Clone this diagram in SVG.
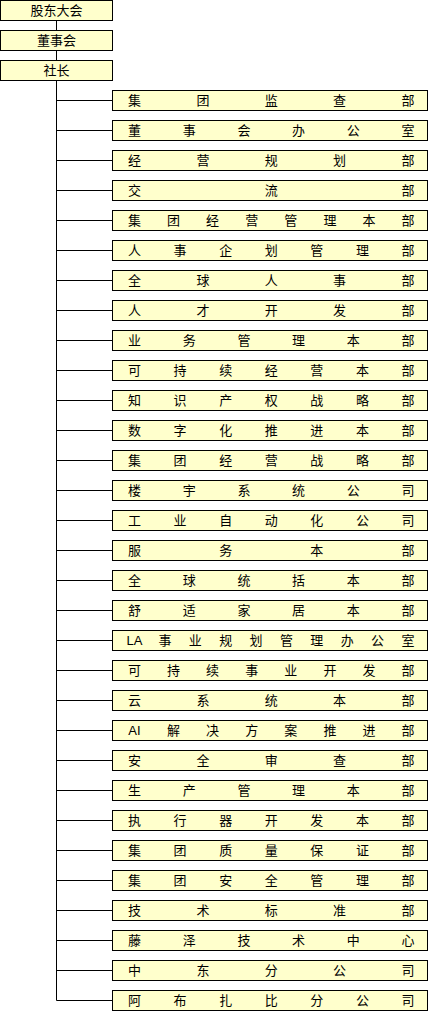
<svg xmlns="http://www.w3.org/2000/svg" width="431" height="1011" viewBox="0 0 431 1011">
<style>
rect{fill:#FFFFCC;stroke:#000;stroke-width:1}
text{font-family:"Liberation Sans","Noto Sans CJK SC",sans-serif;font-size:13px;fill:#000;text-anchor:middle}
.c line,.c path{stroke:#000;stroke-width:1;fill:none}
</style>
<rect width="431" height="1011" fill="#fff" style="fill:#fff;stroke:none"/>
<g class="c" id="connectors">
<path d="M56.5 20.5V1000.5"/>
<path d="M56.5 100.5H112.5M56.5 130.5H112.5M56.5 160.5H112.5M56.5 190.5H112.5M56.5 220.5H112.5M56.5 250.5H112.5M56.5 280.5H112.5M56.5 310.5H112.5M56.5 340.5H112.5M56.5 370.5H112.5M56.5 400.5H112.5M56.5 430.5H112.5M56.5 460.5H112.5M56.5 490.5H112.5M56.5 520.5H112.5M56.5 550.5H112.5M56.5 580.5H112.5M56.5 610.5H112.5M56.5 640.5H112.5M56.5 670.5H112.5M56.5 700.5H112.5M56.5 730.5H112.5M56.5 760.5H112.5M56.5 790.5H112.5M56.5 820.5H112.5M56.5 850.5H112.5M56.5 880.5H112.5M56.5 910.5H112.5M56.5 940.5H112.5M56.5 970.5H112.5M56.5 1000.5H112.5"/>
</g>
<g id="n_shareholders"><rect x="0.5" y="0.5" width="112" height="20"/><text x="56.5" y="15">股东大会</text></g>
<g id="n_board"><rect x="0.5" y="30.5" width="112" height="20"/><text x="56.5" y="45">董事会</text></g>
<g id="n_president"><rect x="0.5" y="60.5" width="112" height="20"/><text x="56.5" y="75">社长</text></g>

<g id="n0"><rect x="112.5" y="90.5" width="315" height="20"/><text y="105"><tspan x="134.5">集</tspan><tspan x="202.9">团</tspan><tspan x="271.3">监</tspan><tspan x="339.6">查</tspan><tspan x="408">部</tspan></text></g>
<g id="n1"><rect x="112.5" y="120.5" width="315" height="20"/><text y="135"><tspan x="134.5">董</tspan><tspan x="189.2">事</tspan><tspan x="243.9">会</tspan><tspan x="298.6">办</tspan><tspan x="353.3">公</tspan><tspan x="408">室</tspan></text></g>
<g id="n2"><rect x="112.5" y="150.5" width="315" height="20"/><text y="165"><tspan x="134.5">经</tspan><tspan x="202.9">营</tspan><tspan x="271.3">规</tspan><tspan x="339.6">划</tspan><tspan x="408">部</tspan></text></g>
<g id="n3"><rect x="112.5" y="180.5" width="315" height="20"/><text y="195"><tspan x="134.5">交</tspan><tspan x="271.3">流</tspan><tspan x="408">部</tspan></text></g>
<g id="n4"><rect x="112.5" y="210.5" width="315" height="20"/><text y="225"><tspan x="134.5">集</tspan><tspan x="173.6">团</tspan><tspan x="212.6">经</tspan><tspan x="251.7">营</tspan><tspan x="290.8">管</tspan><tspan x="329.9">理</tspan><tspan x="368.9">本</tspan><tspan x="408">部</tspan></text></g>
<g id="n5"><rect x="112.5" y="240.5" width="315" height="20"/><text y="255"><tspan x="134.5">人</tspan><tspan x="180.1">事</tspan><tspan x="225.7">企</tspan><tspan x="271.3">划</tspan><tspan x="316.8">管</tspan><tspan x="362.4">理</tspan><tspan x="408">部</tspan></text></g>
<g id="n6"><rect x="112.5" y="270.5" width="315" height="20"/><text y="285"><tspan x="134.5">全</tspan><tspan x="202.9">球</tspan><tspan x="271.3">人</tspan><tspan x="339.6">事</tspan><tspan x="408">部</tspan></text></g>
<g id="n7"><rect x="112.5" y="300.5" width="315" height="20"/><text y="315"><tspan x="134.5">人</tspan><tspan x="202.9">才</tspan><tspan x="271.3">开</tspan><tspan x="339.6">发</tspan><tspan x="408">部</tspan></text></g>
<g id="n8"><rect x="112.5" y="330.5" width="315" height="20"/><text y="345"><tspan x="134.5">业</tspan><tspan x="189.2">务</tspan><tspan x="243.9">管</tspan><tspan x="298.6">理</tspan><tspan x="353.3">本</tspan><tspan x="408">部</tspan></text></g>
<g id="n9"><rect x="112.5" y="360.5" width="315" height="20"/><text y="375"><tspan x="134.5">可</tspan><tspan x="180.1">持</tspan><tspan x="225.7">续</tspan><tspan x="271.3">经</tspan><tspan x="316.8">营</tspan><tspan x="362.4">本</tspan><tspan x="408">部</tspan></text></g>
<g id="n10"><rect x="112.5" y="390.5" width="315" height="20"/><text y="405"><tspan x="134.5">知</tspan><tspan x="180.1">识</tspan><tspan x="225.7">产</tspan><tspan x="271.3">权</tspan><tspan x="316.8">战</tspan><tspan x="362.4">略</tspan><tspan x="408">部</tspan></text></g>
<g id="n11"><rect x="112.5" y="420.5" width="315" height="20"/><text y="435"><tspan x="134.5">数</tspan><tspan x="180.1">字</tspan><tspan x="225.7">化</tspan><tspan x="271.3">推</tspan><tspan x="316.8">进</tspan><tspan x="362.4">本</tspan><tspan x="408">部</tspan></text></g>
<g id="n12"><rect x="112.5" y="450.5" width="315" height="20"/><text y="465"><tspan x="134.5">集</tspan><tspan x="180.1">团</tspan><tspan x="225.7">经</tspan><tspan x="271.3">营</tspan><tspan x="316.8">战</tspan><tspan x="362.4">略</tspan><tspan x="408">部</tspan></text></g>
<g id="n13"><rect x="112.5" y="480.5" width="315" height="20"/><text y="495"><tspan x="134.5">楼</tspan><tspan x="189.2">宇</tspan><tspan x="243.9">系</tspan><tspan x="298.6">统</tspan><tspan x="353.3">公</tspan><tspan x="408">司</tspan></text></g>
<g id="n14"><rect x="112.5" y="510.5" width="315" height="20"/><text y="525"><tspan x="134.5">工</tspan><tspan x="180.1">业</tspan><tspan x="225.7">自</tspan><tspan x="271.3">动</tspan><tspan x="316.8">化</tspan><tspan x="362.4">公</tspan><tspan x="408">司</tspan></text></g>
<g id="n15"><rect x="112.5" y="540.5" width="315" height="20"/><text y="555"><tspan x="134.5">服</tspan><tspan x="225.7">务</tspan><tspan x="316.8">本</tspan><tspan x="408">部</tspan></text></g>
<g id="n16"><rect x="112.5" y="570.5" width="315" height="20"/><text y="585"><tspan x="134.5">全</tspan><tspan x="189.2">球</tspan><tspan x="243.9">统</tspan><tspan x="298.6">括</tspan><tspan x="353.3">本</tspan><tspan x="408">部</tspan></text></g>
<g id="n17"><rect x="112.5" y="600.5" width="315" height="20"/><text y="615"><tspan x="134.5">舒</tspan><tspan x="189.2">适</tspan><tspan x="243.9">家</tspan><tspan x="298.6">居</tspan><tspan x="353.3">本</tspan><tspan x="408">部</tspan></text></g>
<g id="n18"><rect x="112.5" y="630.5" width="315" height="20"/><text y="645"><tspan x="134.5">LA</tspan><tspan x="164.9">事</tspan><tspan x="195.3">业</tspan><tspan x="225.7">规</tspan><tspan x="256.1">划</tspan><tspan x="286.4">管</tspan><tspan x="316.8">理</tspan><tspan x="347.2">办</tspan><tspan x="377.6">公</tspan><tspan x="408">室</tspan></text></g>
<g id="n19"><rect x="112.5" y="660.5" width="315" height="20"/><text y="675"><tspan x="134.5">可</tspan><tspan x="173.6">持</tspan><tspan x="212.6">续</tspan><tspan x="251.7">事</tspan><tspan x="290.8">业</tspan><tspan x="329.9">开</tspan><tspan x="368.9">发</tspan><tspan x="408">部</tspan></text></g>
<g id="n20"><rect x="112.5" y="690.5" width="315" height="20"/><text y="705"><tspan x="134.5">云</tspan><tspan x="202.9">系</tspan><tspan x="271.3">统</tspan><tspan x="339.6">本</tspan><tspan x="408">部</tspan></text></g>
<g id="n21"><rect x="112.5" y="720.5" width="315" height="20"/><text y="735"><tspan x="134.5">AI</tspan><tspan x="173.6">解</tspan><tspan x="212.6">决</tspan><tspan x="251.7">方</tspan><tspan x="290.8">案</tspan><tspan x="329.9">推</tspan><tspan x="368.9">进</tspan><tspan x="408">部</tspan></text></g>
<g id="n22"><rect x="112.5" y="750.5" width="315" height="20"/><text y="765"><tspan x="134.5">安</tspan><tspan x="202.9">全</tspan><tspan x="271.3">审</tspan><tspan x="339.6">查</tspan><tspan x="408">部</tspan></text></g>
<g id="n23"><rect x="112.5" y="780.5" width="315" height="20"/><text y="795"><tspan x="134.5">生</tspan><tspan x="189.2">产</tspan><tspan x="243.9">管</tspan><tspan x="298.6">理</tspan><tspan x="353.3">本</tspan><tspan x="408">部</tspan></text></g>
<g id="n24"><rect x="112.5" y="810.5" width="315" height="20"/><text y="825"><tspan x="134.5">执</tspan><tspan x="180.1">行</tspan><tspan x="225.7">器</tspan><tspan x="271.3">开</tspan><tspan x="316.8">发</tspan><tspan x="362.4">本</tspan><tspan x="408">部</tspan></text></g>
<g id="n25"><rect x="112.5" y="840.5" width="315" height="20"/><text y="855"><tspan x="134.5">集</tspan><tspan x="180.1">团</tspan><tspan x="225.7">质</tspan><tspan x="271.3">量</tspan><tspan x="316.8">保</tspan><tspan x="362.4">证</tspan><tspan x="408">部</tspan></text></g>
<g id="n26"><rect x="112.5" y="870.5" width="315" height="20"/><text y="885"><tspan x="134.5">集</tspan><tspan x="180.1">团</tspan><tspan x="225.7">安</tspan><tspan x="271.3">全</tspan><tspan x="316.8">管</tspan><tspan x="362.4">理</tspan><tspan x="408">部</tspan></text></g>
<g id="n27"><rect x="112.5" y="900.5" width="315" height="20"/><text y="915"><tspan x="134.5">技</tspan><tspan x="202.9">术</tspan><tspan x="271.3">标</tspan><tspan x="339.6">准</tspan><tspan x="408">部</tspan></text></g>
<g id="n28"><rect x="112.5" y="930.5" width="315" height="20"/><text y="945"><tspan x="134.5">藤</tspan><tspan x="189.2">泽</tspan><tspan x="243.9">技</tspan><tspan x="298.6">术</tspan><tspan x="353.3">中</tspan><tspan x="408">心</tspan></text></g>
<g id="n29"><rect x="112.5" y="960.5" width="315" height="20"/><text y="975"><tspan x="134.5">中</tspan><tspan x="202.9">东</tspan><tspan x="271.3">分</tspan><tspan x="339.6">公</tspan><tspan x="408">司</tspan></text></g>
<g id="n30"><rect x="112.5" y="990.5" width="315" height="20"/><text y="1005"><tspan x="134.5">阿</tspan><tspan x="180.1">布</tspan><tspan x="225.7">扎</tspan><tspan x="271.3">比</tspan><tspan x="316.8">分</tspan><tspan x="362.4">公</tspan><tspan x="408">司</tspan></text></g>
</svg>
